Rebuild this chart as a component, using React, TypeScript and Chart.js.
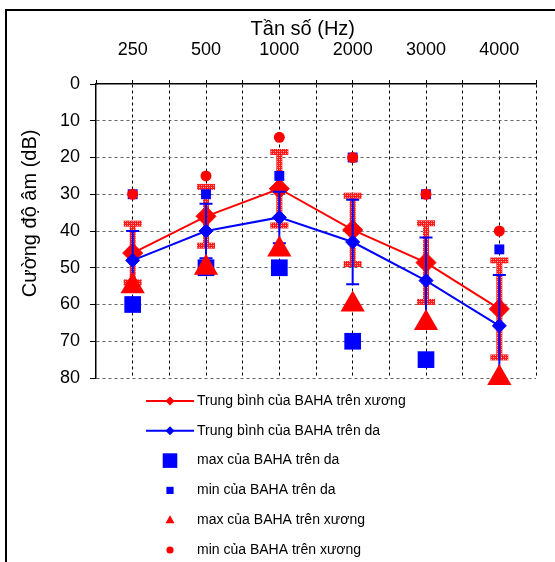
import React, { useEffect, useRef } from 'react';
import { Chart, registerables } from 'chart.js';

Chart.register(...registerables);

// ---------- data ----------
const categories = ['250', '500', '1000', '2000', '3000', '4000'];
const xTitle = 'Tần số (Hz)';
const yTitle = 'Cường độ âm (dB)';
const yMin = 0;
const yMax = 80;
const yStep = 10;

// Trung bình của BAHA trên xương (mean, bone)
const meanBone = [46, 36, 28.5, 39.7, 48.6, 61.2];
const sdBone = [8, 8, 10, 9.3, 10.7, 13.2];
// Trung bình của BAHA trên da (mean, skin)
const meanSkin = [48, 40, 36.3, 43, 53.5, 65.8];
const sdSkin = [8, 7.4, 7, 11.5, 11.7, 13.8];
// max / min
const maxSkin: (number | null)[] = [60, 50, 50, 70, 75, null];
const minSkin = [30, 30, 25, 20, 30, 45];
const maxBone = [55, 50, 45, 60, 65, 80];
const minBone = [30, 25, 14.5, 20, 30, 40];

const legendLabels = [
  'Trung bình của BAHA trên xương',
  'Trung bình của BAHA trên da',
  'max của BAHA trên da',
  'min của BAHA trên da',
  'max của BAHA trên xương',
  'min của BAHA trên xương',
];

const RED = '#ff0000';
const BLUE = '#0000ff';
const FONT = "'Liberation Sans', Arial, sans-serif";

const toPts = (arr: (number | null)[]) => arr.map((v, i) => ({ x: i, y: v }));

function makePattern(ctx: CanvasRenderingContext2D) {
  const c = document.createElement('canvas');
  c.width = 4;
  c.height = 4;
  const p = c.getContext('2d')!;
  p.fillStyle = '#ff1a1a';
  p.fillRect(0, 0, 4, 4);
  p.fillStyle = '#ffb3b3';
  p.fillRect(1, 1, 1, 1);
  p.fillRect(3, 3, 1, 1);
  p.fillStyle = '#ff6666';
  p.fillRect(3, 1, 1, 1);
  p.fillRect(1, 3, 1, 1);
  return ctx.createPattern(c, 'repeat')!;
}

const errorBarPlugin = {
  id: 'errorBars',
  beforeDatasetDraw(chart: any, args: any) {
    const ds = chart.data.datasets[args.index];
    if (!ds.errKind) return;
    const ctx: CanvasRenderingContext2D = chart.ctx;
    const xs = chart.scales.x;
    const ys = chart.scales.y;
    const means: number[] = ds.errMean;
    const sds: number[] = ds.errSd;
    ctx.save();
    means.forEach((m, i) => {
      const x = xs.getPixelForValue(i);
      const y1 = ys.getPixelForValue(m - sds[i]);
      const y2 = ys.getPixelForValue(m + sds[i]);
      if (ds.errKind === 'bone') {
        ctx.fillStyle = makePattern(ctx);
        ctx.fillRect(x - 3, y1, 6, y2 - y1);
        ctx.fillRect(x - 9, y1 - 3, 18, 6);
        ctx.fillRect(x - 9, y2 - 3, 18, 6);
      } else {
        ctx.strokeStyle = BLUE;
        ctx.lineWidth = 2;
        ctx.beginPath();
        ctx.moveTo(x, y1);
        ctx.lineTo(x, y2);
        ctx.moveTo(x - 6.5, y1);
        ctx.lineTo(x + 6.5, y1);
        ctx.moveTo(x - 6.5, y2);
        ctx.lineTo(x + 6.5, y2);
        ctx.stroke();
      }
    });
    ctx.restore();
  },
};

const titlesPlugin = {
  id: 'axisTitles',
  afterDraw(chart: any) {
    const ctx: CanvasRenderingContext2D = chart.ctx;
    const area = chart.chartArea;
    ctx.save();
    ctx.fillStyle = '#000';
    ctx.font = `20px ${FONT}`;
    ctx.textAlign = 'center';
    ctx.textBaseline = 'middle';
    ctx.fillText(xTitle, area.left + (area.right - area.left) * 0.47, 29);
    ctx.translate(30, area.top + (area.bottom - area.top) * 0.44);
    ctx.rotate(-Math.PI / 2);
    ctx.fillText(yTitle, 0, 0);
    ctx.restore();
  },
};

const legendPlugin = {
  id: 'columnLegend',
  afterDraw(chart: any) {
    const ctx: CanvasRenderingContext2D = chart.ctx;
    const y0 = 401;
    const step = 29.8;
    const mx = 170;
    const tx = 197;
    ctx.save();
    legendLabels.forEach((label, i) => {
      const y = y0 + i * step;
      if (i < 2) {
        const col = i === 0 ? RED : BLUE;
        ctx.strokeStyle = col;
        ctx.fillStyle = col;
        ctx.lineWidth = 2;
        ctx.beginPath();
        ctx.moveTo(146, y);
        ctx.lineTo(194, y);
        ctx.stroke();
        ctx.beginPath();
        ctx.moveTo(mx - 4.5, y);
        ctx.lineTo(mx, y - 4.5);
        ctx.lineTo(mx + 4.5, y);
        ctx.lineTo(mx, y + 4.5);
        ctx.closePath();
        ctx.fill();
      } else if (i === 2) {
        ctx.fillStyle = BLUE;
        ctx.fillRect(mx - 7.3, y - 7.3, 14.6, 14.6);
      } else if (i === 3) {
        ctx.fillStyle = BLUE;
        ctx.fillRect(mx - 3.6, y - 3.6, 7.2, 7.2);
      } else if (i === 4) {
        ctx.fillStyle = RED;
        ctx.beginPath();
        ctx.moveTo(mx, y - 5);
        ctx.lineTo(mx + 4.5, y + 3);
        ctx.lineTo(mx - 4.5, y + 3);
        ctx.closePath();
        ctx.fill();
      } else {
        ctx.fillStyle = RED;
        ctx.beginPath();
        ctx.arc(mx, y, 3.6, 0, Math.PI * 2);
        ctx.fill();
      }
      ctx.fillStyle = '#000';
      ctx.font = `14px ${FONT}`;
      ctx.textAlign = 'left';
      ctx.textBaseline = 'middle';
      ctx.fillText(label, tx, y);
    });
    ctx.restore();
  },
};

export default function App() {
  const ref = useRef<HTMLCanvasElement>(null);

  useEffect(() => {
    if (!ref.current) return;
    const chart = new Chart(ref.current, {
      type: 'line',
      data: {
        datasets: [
          {
            label: legendLabels[0],
            data: toPts(meanBone),
            borderColor: RED,
            backgroundColor: RED,
            borderWidth: 2,
            pointStyle: 'rectRot',
            pointRadius: 10,
            pointBorderWidth: 1,
            showLine: true,
            order: 5,
            errKind: 'bone',
            errMean: meanBone,
            errSd: sdBone,
          } as any,
          {
            label: legendLabels[1],
            data: toPts(meanSkin),
            borderColor: BLUE,
            backgroundColor: BLUE,
            borderWidth: 2,
            pointStyle: 'rectRot',
            pointRadius: 7,
            pointBorderWidth: 1,
            showLine: true,
            order: 4,
            errKind: 'skin',
            errMean: meanSkin,
            errSd: sdSkin,
          } as any,
          {
            label: legendLabels[2],
            data: toPts(maxSkin),
            borderColor: BLUE,
            backgroundColor: BLUE,
            pointStyle: 'rect',
            pointRadius: 11.8,
            pointBorderWidth: 0,
            showLine: false,
            order: 3,
          },
          {
            label: legendLabels[3],
            data: toPts(minSkin),
            borderColor: BLUE,
            backgroundColor: BLUE,
            pointStyle: 'rect',
            pointRadius: 7,
            pointBorderWidth: 0,
            showLine: false,
            order: 2,
          },
          {
            label: legendLabels[4],
            data: toPts(maxBone),
            borderColor: RED,
            backgroundColor: RED,
            pointStyle: 'triangle',
            pointRadius: 14,
            pointBorderWidth: 0,
            showLine: false,
            order: 1,
          },
          {
            label: legendLabels[5],
            data: toPts(minBone),
            borderColor: RED,
            backgroundColor: RED,
            pointStyle: 'circle',
            pointRadius: 5.5,
            pointBorderWidth: 0,
            showLine: false,
            order: 0,
          },
        ],
      },
      options: {
        responsive: false,
        animation: false,
        clip: false as any,
        layout: { padding: { left: 0, top: 0, right: 15, bottom: 184 } },
        plugins: {
          legend: { display: false },
          tooltip: { enabled: false },
        },
        scales: {
          x: {
            type: 'linear',
            position: 'top',
            min: -0.5,
            max: 5.5,
            afterFit: (s: any) => {
              s.height = 84;
            },
            ticks: {
              stepSize: 0.5,
              autoSkip: false,
              maxRotation: 0,
              padding: 19,
              color: '#000',
              font: { family: FONT, size: 18 },
              callback: (v: any) => (Number.isInteger(v) ? categories[v] : ''),
            },
            grid: {
              color: (c: any) => (c.tick && c.tick.value === -0.5 ? 'rgba(0,0,0,0)' : '#000'),
              lineWidth: 1,
              tickLength: 4,
              tickColor: '#000',
            },
            border: { display: true, color: '#000', width: 1.5, dash: [3, 3] },
          },
          y: {
            type: 'linear',
            reverse: true,
            min: yMin,
            max: yMax,
            afterFit: (s: any) => {
              s.width = 96;
            },
            ticks: {
              stepSize: yStep,
              padding: 10,
              color: '#000',
              font: { family: FONT, size: 18 },
            },
            grid: {
              color: (c: any) => (c.tick && c.tick.value === 0 ? 'rgba(0,0,0,0)' : '#666'),
              lineWidth: 1,
              tickLength: 6,
              tickColor: '#000',
            },
            border: { display: true, color: '#000', width: 1.5, dash: [3, 3] },
          },
        },
      },
      plugins: [errorBarPlugin, titlesPlugin, legendPlugin],
    });
    return () => chart.destroy();
  }, []);

  return (
    <div style={{ position: 'absolute', left: 0, top: 0, width: 555, height: 562, background: '#fff', overflow: 'hidden' }}>
      <canvas ref={ref} width={555} height={562} style={{ position: 'absolute', left: 0, top: 0, width: 555, height: 562 }} />
      <div
        style={{
          position: 'absolute',
          left: 5,
          top: 9,
          width: 550,
          height: 553,
          borderTop: '2px solid #000',
          borderLeft: '2px solid #000',
          boxSizing: 'border-box',
          pointerEvents: 'none',
        }}
      />
    </div>
  );
}
